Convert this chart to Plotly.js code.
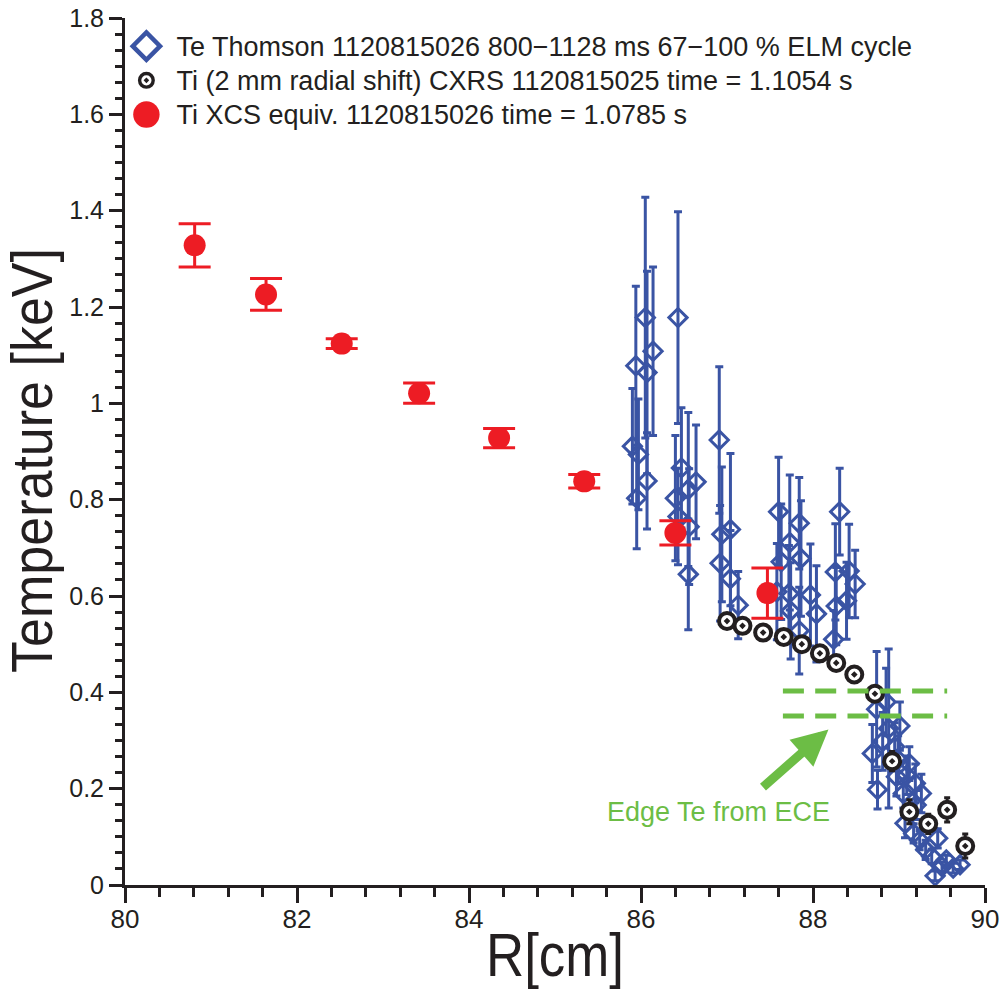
<!DOCTYPE html>
<html>
<head>
<meta charset="utf-8">
<script src="https://cdn.plot.ly/plotly-3.0.1.min.js"></script>
<style>html,body{margin:0;padding:0;background:#fff;}#chart{width:1000px;height:989px;}</style>
</head>
<body>
<div id="chart"></div>
<script>
// ---- Te Thomson (blue diamonds) ----
const teR = [85.90, 85.94, 85.97, 85.95, 86.05, 86.07, 86.07, 86.14,
  86.43, 86.47, 86.40, 86.55, 86.64, 86.43, 86.56, 86.55,
  86.91, 86.94, 87.04, 86.92, 87.04, 87.13,
  87.60, 87.73, 87.84, 87.63, 87.86, 87.72, 87.74, 87.97, 88.04, 87.84, 87.58,
  88.31, 88.26, 88.42, 88.49, 88.39, 88.27, 88.24,
  88.74, 88.85, 88.88, 89.01, 88.81, 88.95, 88.69, 88.99, 89.12, 88.75,
  88.97, 89.09, 89.19, 89.05, 89.26, 89.20, 89.07, 89.17, 89.24, 89.45,
  89.38, 89.50, 89.42, 89.55, 89.71, 89.63, 89.31];
const teT = [0.911, 1.078, 0.894, 0.803, 1.178, 1.064, 0.839, 1.108,
  1.178, 0.866, 0.803, 0.821, 0.837, 0.765, 0.744, 0.645,
  0.924, 0.728, 0.738, 0.668, 0.636, 0.581,
  0.775, 0.711, 0.751, 0.671, 0.678, 0.605, 0.569, 0.602, 0.563, 0.528, 0.609,
  0.775, 0.650, 0.652, 0.625, 0.590, 0.579, 0.510,
  0.365, 0.380, 0.325, 0.330, 0.298, 0.287, 0.273, 0.260, 0.252, 0.198,
  0.225, 0.228, 0.211, 0.190, 0.190, 0.166, 0.128, 0.107, 0.093, 0.097,
  0.059, 0.038, 0.019, 0.052, 0.042, 0.035, 0.073];
const teErr = [0.12, 0.165, 0.115, 0.105, 0.25, 0.21, 0.10, 0.175,
  0.22, 0.125, 0.13, 0.16, 0.118, 0.10, 0.12, 0.115,
  0.152, 0.14, 0.158, 0.12, 0.10, 0.07,
  0.113, 0.14, 0.095, 0.12, 0.12, 0.10, 0.10, 0.106, 0.10, 0.09, 0.10,
  0.09, 0.10, 0.097, 0.07, 0.08, 0.08, 0.06,
  0.12, 0.07, 0.165, 0.05, 0.06, 0.05, 0.06, 0.05, 0.035, 0.04,
  0.04, 0.04, 0.04, 0.03, 0.04, 0.03, 0.03, 0.02, 0.02, 0.02,
  0.015, 0.01, 0.01, 0.01, 0.01, 0.01, 0.02];

// ---- Ti CXRS (black) ----
const cxR = [87.00, 87.18, 87.42, 87.66, 87.87, 88.08, 88.27, 88.48, 88.72, 88.92, 89.12, 89.34, 89.56, 89.77];
const cxT = [0.548, 0.538, 0.524, 0.515, 0.500, 0.481, 0.461, 0.437, 0.397, 0.257, 0.152, 0.127, 0.156, 0.081];
const cxErr = [0.012, 0.01, 0.01, 0.01, 0.01, 0.01, 0.01, 0.01, 0.015, 0.02, 0.025, 0.02, 0.025, 0.025];

// ---- Ti XCS (red) ----
const xcsR = [80.81, 81.64, 82.52, 83.42, 84.35, 85.34, 86.40, 87.47];
const xcsT = [1.328, 1.226, 1.124, 1.021, 0.928, 0.838, 0.731, 0.606];
const xcsErr = [0.045, 0.033, 0.01, 0.021, 0.02, 0.014, 0.025, 0.052];

// ---- Edge Te from ECE (green) ----
const eceR = [87.65, 89.56];
const eceHigh = [0.403, 0.403];
const eceLow = [0.351, 0.351];
const arrowTip = [88.18, 0.323];
const eceLabelPos = [86.90, 0.152];

// ---- labels ----
const legendTe = "Te Thomson 1120815026 800\u22121128 ms 67\u2212100 % ELM cycle";
const legendCx = "Ti (2 mm radial shift) CXRS 1120815025 time = 1.1054 s";
const legendXcs = "Ti XCS equiv. 1120815026 time = 1.0785 s";
const eceLabel = "Edge Te from ECE";
const xTitle = "R[cm]";
const yTitle = "Temperature [keV]";

const BLUE = "#3a54a4", RED = "#ed1c24", GREEN = "#6cbd45", BLACK = "#231f20";
const SANS = "Liberation Sans, Arial, Helvetica, sans-serif";
const legendSymbolScale = [1.5, 0.85, 1.65];

const traces = [
  {x: teR, y: teT, type: "scatter", mode: "markers", name: legendTe,
   marker: {symbol: "diamond-open", size: 14, color: BLUE, line: {color: BLUE, width: 3}},
   error_y: {type: "data", array: teErr, visible: true, color: BLUE, thickness: 3, width: 4},
   cliponaxis: false},
  {x: cxR, y: cxT, type: "scatter", mode: "markers", name: legendCx,
   marker: {symbol: "circle-dot", size: 16, color: "white", line: {color: BLACK, width: 4}},
   error_y: {type: "data", array: cxErr, visible: true, color: BLACK, thickness: 3, width: 3},
   cliponaxis: false},
  {x: xcsR, y: xcsT, type: "scatter", mode: "markers", name: legendXcs,
   marker: {symbol: "circle", size: 22, color: RED},
   error_y: {type: "data", array: xcsErr, visible: true, color: RED, thickness: 3, width: 16},
   cliponaxis: false},
  {x: eceR, y: eceHigh, type: "scatter", mode: "lines", showlegend: false, hoverinfo: "skip",
   line: {color: GREEN, width: 5, dash: "21px,11.3px"}},
  {x: eceR, y: eceLow, type: "scatter", mode: "lines", showlegend: false, hoverinfo: "skip",
   line: {color: GREEN, width: 5, dash: "21px,11.3px"}}
];

const layout = {
  width: 1000, height: 989,
  margin: {l: 125, r: 15, t: 18, b: 104},
  paper_bgcolor: "white", plot_bgcolor: "white",
  showlegend: true,
  legend: {x: -0.01, y: 0.993, xanchor: "left", yanchor: "top",
    bgcolor: "rgba(0,0,0,0)", borderwidth: 0, itemwidth: 50,
    font: {family: SANS, size: 24, color: BLACK}, tracegroupgap: 0},
  xaxis: {range: [80, 90], showgrid: false, zeroline: false,
    showline: true, linecolor: BLACK, linewidth: 3,
    ticks: "outside", ticklen: 15, tickwidth: 3, tickcolor: BLACK, dtick: 2, tick0: 80,
    ticklabelstandoff: -6,
    minor: {ticks: "outside", ticklen: 9, tickwidth: 3, tickcolor: BLACK, dtick: 0.4, showgrid: false},
    tickfont: {family: SANS, size: 26, color: BLACK},
    title: {text: xTitle, font: {family: SANS, size: 62, color: BLACK}, standoff: 22}},
  yaxis: {range: [0, 1.8], showgrid: false, zeroline: false,
    showline: true, linecolor: BLACK, linewidth: 3,
    ticks: "outside", ticklen: 13, tickwidth: 3, tickcolor: BLACK, dtick: 0.2, tick0: 0,
    minor: {ticks: "outside", ticklen: 7, tickwidth: 3, tickcolor: BLACK, dtick: 0.2/6, showgrid: false},
    tickfont: {family: SANS, size: 25, color: BLACK},
    title: {text: yTitle, font: {family: SANS, size: 57, color: BLACK}, standoff: 4}},
  annotations: [
    {x: arrowTip[0], y: arrowTip[1], xref: "x", yref: "y", text: "", showarrow: true,
     ax: -67, ay: 59, arrowcolor: GREEN, arrowwidth: 9, arrowhead: 2, arrowsize: 0.8},
    {x: eceLabelPos[0], y: eceLabelPos[1], xref: "x", yref: "y", text: eceLabel, showarrow: false,
     font: {family: SANS, size: 27, color: GREEN}}
  ]
};

Plotly.newPlot("chart", traces, layout, {displayModeBar: false, staticPlot: true}).then(function (gd) {
  // condensed axis titles as in the original figure
  const xt = gd.querySelector(".g-xtitle text");
  if (xt) { xt.setAttribute("textLength", "138"); xt.setAttribute("lengthAdjust", "spacingAndGlyphs"); }
  const yt = gd.querySelector(".g-ytitle text");
  if (yt) {
    yt.setAttribute("textLength", "425"); yt.setAttribute("lengthAdjust", "spacingAndGlyphs");
    yt.setAttribute("x", String(parseFloat(yt.getAttribute("x")) - 9));
  }
  // slightly larger legend lettering with the original tight row spacing
  gd.querySelectorAll(".legend .scrollbox, .legend").forEach(function (g) { g.removeAttribute("clip-path"); });
  gd.querySelectorAll(".legendtext").forEach(function (t) { t.style.fontSize = "27px"; });
  // legend symbols sized as in the original
  gd.querySelectorAll(".legend .traces").forEach(function (item, i) {
    const s = legendSymbolScale[i] || 1;
    item.querySelectorAll(".legendpoints path").forEach(function (p) {
      const tr = p.getAttribute("transform") || "";
      p.setAttribute("transform", tr + " scale(" + s + ")");
    });
  });
});
</script>
</body>
</html>
